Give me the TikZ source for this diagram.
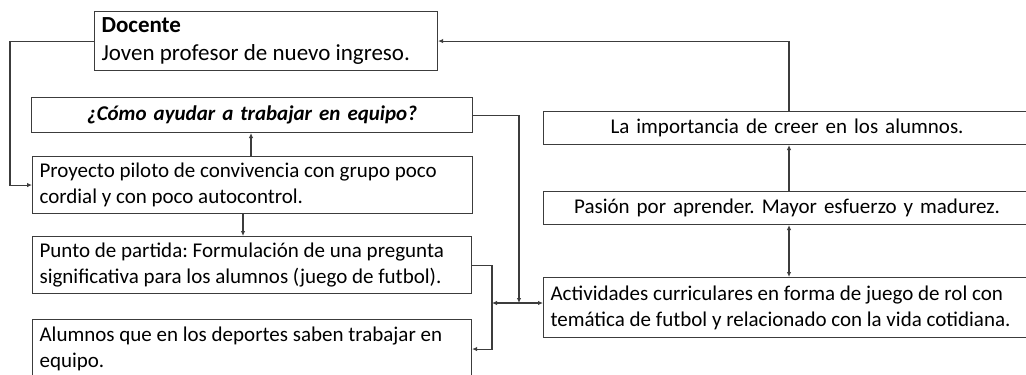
\documentclass[tikz,border=0pt]{standalone}
\usepackage{fontspec}
\setmainfont{Carlito}
\usetikzlibrary{arrows.meta}
\definecolor{linec}{RGB}{60,60,60}
\frenchspacing
\begin{document}
\begin{tikzpicture}[x=1pt,y=-1pt,
  box/.style={draw=linec, line width=1.1pt, anchor=north west, inner xsep=7pt, inner ysep=2pt, font=\fontsize{21}{26}\selectfont, align=flush left},
  cbox/.style={box, align=center},
  conn/.style={draw=linec, line width=1.1pt},
  tip/.style={-{Latex[length=5pt,width=4.5pt]}},
  dtip/.style={{Latex[length=5pt,width=4.5pt]}-{Latex[length=5pt,width=4.5pt]}}
]
\useasboundingbox (0,0) rectangle (1026,375);
\fill[white] (0,0) rectangle (1026,375);

\node[box, text width=329pt, minimum height=59pt, font=\fontsize{23}{28}\selectfont] (doc) at (94,11) {\textbf{Docente}\\Joven profesor de nuevo ingreso.};
\node[cbox, text width=427pt, minimum height=35pt] (q) at (31,97) {\textbf{\textit{¿Cómo ayudar a trabajar en equipo?}}};
\node[box, text width=426pt, minimum height=57pt] (proy) at (32,156) {Proyecto piloto de convivencia con grupo poco\\cordial y con poco autocontrol.};
\node[box, text width=425pt, minimum height=57pt] (punto) at (32,236) {Punto de partida: Formulación de una pregunta\\significativa para los alumnos (juego de futbol).};
\node[box, text width=425pt, minimum height=59pt] (alum) at (32,319) {Alumnos que en los deportes saben trabajar en\\equipo.};
\node[cbox, text width=473pt, minimum height=33pt] (imp) at (543,111) {La importancia de creer en los alumnos.};
\node[cbox, text width=473pt, minimum height=33pt] (pas) at (543,191) {Pasión por aprender. Mayor esfuerzo y madurez.};
\node[box, text width=490pt, minimum height=60pt] (act) at (543,277) {Actividades curriculares en forma de juego de rol con\\temática de futbol y relacionado con la vida cotidiana.};

\coordinate (lc) at (10,41);
\coordinate (rx) at (789,0);
\coordinate (c3) at (251,0);
\coordinate (c4) at (243,0);
\coordinate (c5) at (519,303);
\coordinate (c6) at (492,0);
\coordinate (hy) at (0,303);

\draw[conn,tip] (doc.west) -- (doc.west -| lc) -- (lc |- proy.west) -- (proy.west);
\draw[conn,tip] (imp.north -| rx) -- (rx |- doc.east) -- (doc.east);
\draw[conn,tip] (proy.north -| c3) -- (q.south -| c3);
\draw[conn,tip] (proy.south -| c4) -- (punto.north -| c4);
\draw[conn,tip] (q.east) -- (q.east -| c5) -- (c5);
\draw[conn,tip] (punto.east) -- (punto.east -| c6) -- (c6 |- alum.east) -- (alum.east);
\draw[conn,dtip] (c6 |- hy) -- (act.west |- hy);
\draw[conn,tip] (pas.north -| rx) -- (imp.south -| rx);
\draw[conn,dtip] (pas.south -| rx) -- (act.north -| rx);
\end{tikzpicture}
\end{document}
